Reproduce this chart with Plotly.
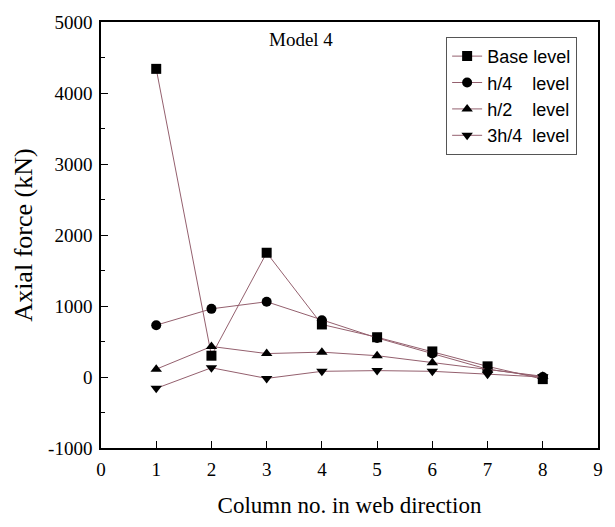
import plotly.graph_objects as go

# Axial force per column, for each height level of Model 4
columns = [1, 2, 3, 4, 5, 6, 7, 8]
base_level = [4340, 300, 1750, 740, 560, 360, 150, -30]
h4_level = [730, 960, 1060, 800, 550, 330, 110, 0]
h2_level = [110, 430, 330, 350, 300, 200, 100, 10]
h34_level = [-160, 130, -20, 80, 90, 80, 40, 0]

y_ticks = [-1000, 0, 1000, 2000, 3000, 4000, 5000]
y_tick_labels = ["-1000", "0", "1000", "2000", "3000", "4000", "5000"]
x_ticks = [0, 1, 2, 3, 4, 5, 6, 7, 8, 9]

series = [
    ("Base level", base_level, "square"),
    ("h/4\u00a0\u00a0\u00a0\u00a0level", h4_level, "circle"),
    ("h/2\u00a0\u00a0\u00a0\u00a0level", h2_level, "triangle-up"),
    ("3h/4\u00a0\u00a0level", h34_level, "triangle-down"),
]

line_color = "#94606e"

fig = go.Figure()
for name, vals, sym in series:
    fig.add_trace(go.Scatter(
        x=columns, y=vals, name=name, mode="lines+markers",
        line=dict(color=line_color, width=1),
        marker=dict(symbol=sym, size=10, color="black"),
    ))

axis_common = dict(
    showline=True, linecolor="black", linewidth=1.5, mirror=True,
    ticks="inside", tickcolor="black", showgrid=False, zeroline=False,
    tickfont=dict(family="Liberation Serif", size=19, color="black"),
    ticklabelstandoff=3,
)

fig.update_xaxes(
    range=[0, 9], tickvals=x_ticks, ticklen=7, tickwidth=1.2,
    title=dict(text="Column no. in web direction",
               font=dict(family="Liberation Serif", size=23, color="black"),
               standoff=18),
    **axis_common,
)
fig.update_yaxes(
    range=[-1000, 5000], tickvals=y_ticks, ticktext=y_tick_labels,
    ticklen=7, tickwidth=1.2,
    minor=dict(dtick=500, ticks="inside", ticklen=4, tickcolor="black"),
    title=dict(text="Axial force (kN)",
               font=dict(family="Liberation Serif", size=26, color="black"),
               standoff=8),
    **axis_common,
)

fig.add_annotation(
    x=0.402, y=0.958, xref="paper", yref="paper", text="Model 4",
    showarrow=False, xanchor="center", yanchor="middle",
    font=dict(family="Liberation Serif", size=19, color="black"),
)

fig.update_layout(
    width=615, height=527,
    margin=dict(l=101, r=17, t=17, b=79),
    paper_bgcolor="white", plot_bgcolor="white",
    showlegend=True,
    legend=dict(
        x=0.958, y=0.965, xanchor="right", yanchor="top",
        bordercolor="#555555", borderwidth=1, bgcolor="white",
        font=dict(family="Liberation Sans", size=18, color="black"),
        tracegroupgap=0, itemwidth=30,
    ),
)

fig.write_html("out.html")
